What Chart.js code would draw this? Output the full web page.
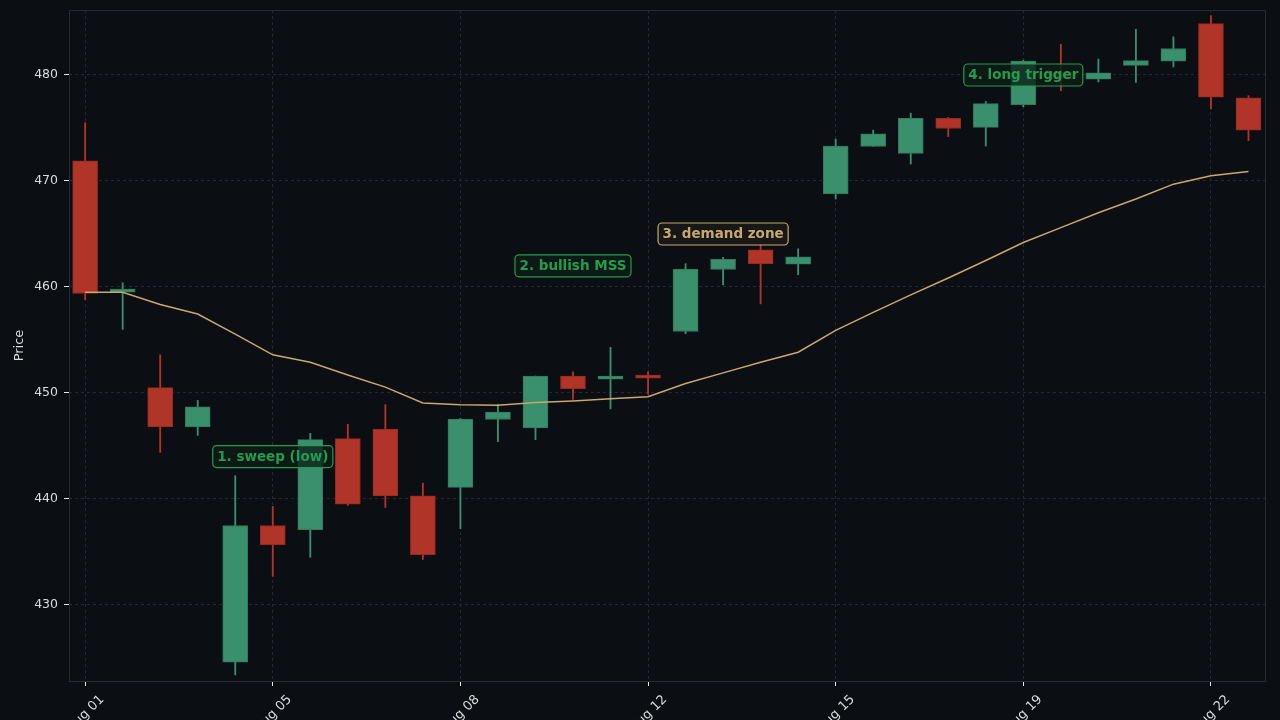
<!DOCTYPE html>
<html>
<head>
<meta charset="utf-8">
<script src="https://cdn.jsdelivr.net/npm/chart.js@4.4.1/dist/chart.umd.min.js"></script>
<style>
  html, body { margin: 0; padding: 0; background: #0b0e13; }
  #wrap { width: 1280px; height: 720px; }
</style>
</head>
<body>
<div id="wrap"><canvas id="chart" width="1280" height="720"></canvas></div>
<script>
// candles, one per session
const open  = [471.9, 459.5, 450.5, 446.8, 424.6, 437.5, 437.1, 445.7, 446.6, 440.3, 441.1, 447.5, 446.7, 451.6, 451.3, 451.7,
               455.8, 461.65, 463.5, 462.15, 468.8, 473.25, 472.6, 475.9, 475.05, 477.2, 480.3, 479.6, 480.9, 481.3, 484.85, 477.85];
const high  = [475.5, 460.4, 453.6, 449.3, 442.2, 439.3, 446.2, 447.05, 448.9, 441.5, 447.6, 448.9, 451.6, 452.0, 454.3, 452.0,
               462.2, 462.8, 464.0, 463.6, 473.95, 474.8, 476.4, 476.0, 477.5, 481.4, 482.9, 481.5, 484.3, 483.6, 485.6, 478.05];
const low   = [458.8, 456.0, 444.4, 446.0, 423.4, 432.7, 434.5, 439.4, 439.2, 434.3, 437.2, 445.4, 445.6, 449.4, 448.5, 449.9,
               455.6, 460.2, 458.4, 461.15, 468.3, 473.25, 471.6, 474.2, 473.3, 477.0, 478.5, 479.35, 479.3, 480.75, 476.8, 473.8];
const close = [459.4, 459.8, 446.8, 448.7, 437.5, 435.7, 445.6, 439.5, 440.3, 434.75, 447.55, 448.2, 451.6, 450.4, 451.6, 451.4,
               461.7, 462.6, 462.2, 462.85, 473.3, 474.45, 475.9, 474.95, 477.3, 481.3, 479.6, 480.2, 481.35, 482.5, 477.9, 474.8];
// moving average
const ma    = [459.5, 459.5, 458.35, 457.45, 455.55, 453.6, 452.9, 451.7, 450.55, 449.05, 448.9, 448.85, 449.1, 449.25, 449.45, 449.65,
               450.9, 451.9, 452.9, 453.85, 455.9, 457.6, 459.25, 460.85, 462.5, 464.2, 465.6, 467.0, 468.3, 469.7, 470.5, 470.9];

const tickIdx    = [0, 5, 10, 15, 20, 25, 30];
const tickLabels = ['Aug 01', 'Aug 05', 'Aug 08', 'Aug 12', 'Aug 15', 'Aug 19', 'Aug 22'];
const priceTicks = [430, 440, 450, 460, 470, 480];

const noteText  = ['1. sweep (low)', '2. bullish MSS', '3. demand zone', '4. long trigger'];
const noteIdx   = [5, 13, 17, 25];
const notePrice = [444.0, 462.0, 465.0, 480.0];
const noteKind  = ['green', 'green', 'tan', 'green'];

const UP = '#3a8f6c', UP_EDGE = '#2f7a5b';
const DN = '#b03428', DN_EDGE = '#962a20';
const TAN = '#c9a86c';
const TXT = '#dcdcdc';

const isUp = open.map((o, i) => close[i] >= o);
const bodies = open.map((o, i) => ({ x: i, y: [o, close[i]] }));
const wicks  = open.map((o, i) => ({ x: i, y: [low[i], high[i]] }));
const maPts  = ma.map((v, i) => ({ x: i, y: v }));

const frame = {
  id: 'frame',
  beforeDraw(chart) {
    const c = chart.ctx;
    c.save();
    c.fillStyle = '#0b0e13';
    c.fillRect(0, 0, chart.width, chart.height);
    c.restore();
  },
  afterDatasetsDraw(chart) {
    const c = chart.ctx, a = chart.chartArea;
    c.save();
    c.strokeStyle = '#262a31';
    c.lineWidth = 1;
    c.strokeRect(a.left + 0.5, a.top + 0.5, a.right - a.left, a.bottom - a.top);
    c.restore();
  }
};

const notes = {
  id: 'notes',
  afterDatasetsDraw(chart) {
    const c = chart.ctx, xs = chart.scales.x, ys = chart.scales.y;
    c.save();
    c.font = 'bold 13.5px "DejaVu Sans"';
    c.textAlign = 'center';
    c.textBaseline = 'middle';
    noteText.forEach((t, i) => {
      const px = xs.getPixelForValue(noteIdx[i]);
      const py = ys.getPixelForValue(notePrice[i]);
      const w = c.measureText(t).width + 9;
      const h = 22;
      const col = noteKind[i] === 'tan' ? TAN : '#1f9e4f';
      c.beginPath();
      c.roundRect(px - w / 2, py - h / 2, w, h, 4);
      c.fillStyle = noteKind[i] === 'tan' ? 'rgba(26,26,24,0.78)' : 'rgba(14,28,22,0.78)';
      c.fill();
      c.lineWidth = 1.2;
      c.strokeStyle = col;
      c.stroke();
      c.fillStyle = col;
      c.fillText(t, px, py + 0.5);
    });
    c.restore();
  }
};

// drop the automatic label overflow padding so the plot box sits where it should
function noPad(s) {
  s.paddingTop = 0; s.paddingBottom = 0; s.paddingLeft = 0; s.paddingRight = 0;
}

new Chart(document.getElementById('chart'), {
  type: 'bar',
  data: {
    datasets: [
      {
        type: 'line',
        data: maPts,
        borderColor: TAN,
        borderWidth: 1.5,
        pointRadius: 0,
        tension: 0,
        order: 1
      },
      {
        data: bodies,
        backgroundColor: isUp.map(u => u ? UP : DN),
        borderColor: isUp.map(u => u ? UP_EDGE : DN_EDGE),
        borderWidth: 1,
        borderSkipped: false,
        barThickness: 25,
        grouped: false,
        order: 2
      },
      {
        data: wicks,
        backgroundColor: isUp.map(u => u ? UP : DN),
        barThickness: 1.2,
        grouped: false,
        order: 3
      }
    ]
  },
  options: {
    responsive: false,
    animation: false,
    layout: { padding: { top: 10, right: 15, left: 0, bottom: 0 } },
    plugins: { legend: { display: false }, tooltip: { enabled: false } },
    scales: {
      x: {
        type: 'linear',
        min: -0.43,
        max: 31.44,
        offset: false,
        afterBuildTicks: s => { s.ticks = tickIdx.map(v => ({ value: v })); },
        afterFit: s => { s.height = 39; noPad(s); },
        ticks: {
          color: TXT,
          font: { family: 'DejaVu Sans', size: 13 },
          minRotation: 45,
          maxRotation: 45,
          autoSkip: false,
          labelOffset: 17,
          padding: 6,
          callback: v => tickLabels[tickIdx.indexOf(v)]
        },
        grid: { offset: false, color: '#242830', tickColor: '#e6e6e6', tickLength: 5, tickWidth: 1 },
        border: { display: false, dash: [3, 3] }
      },
      y: {
        min: 422.83,
        max: 486.13,
        afterBuildTicks: s => { s.ticks = priceTicks.map(v => ({ value: v })); },
        afterFit: s => { s.width = 69; noPad(s); },
        ticks: {
          color: TXT,
          font: { family: 'DejaVu Sans', size: 12.5 },
          padding: 6
        },
        title: {
          display: true,
          text: 'Price',
          color: TXT,
          font: { family: 'DejaVu Sans', size: 13 },
          padding: { top: 12, bottom: 0 }
        },
        grid: { color: '#242830', tickColor: '#e6e6e6', tickLength: 5, tickWidth: 1 },
        border: { display: false, dash: [3, 3] }
      }
    }
  },
  plugins: [frame, notes]
});
</script>
</body>
</html>
